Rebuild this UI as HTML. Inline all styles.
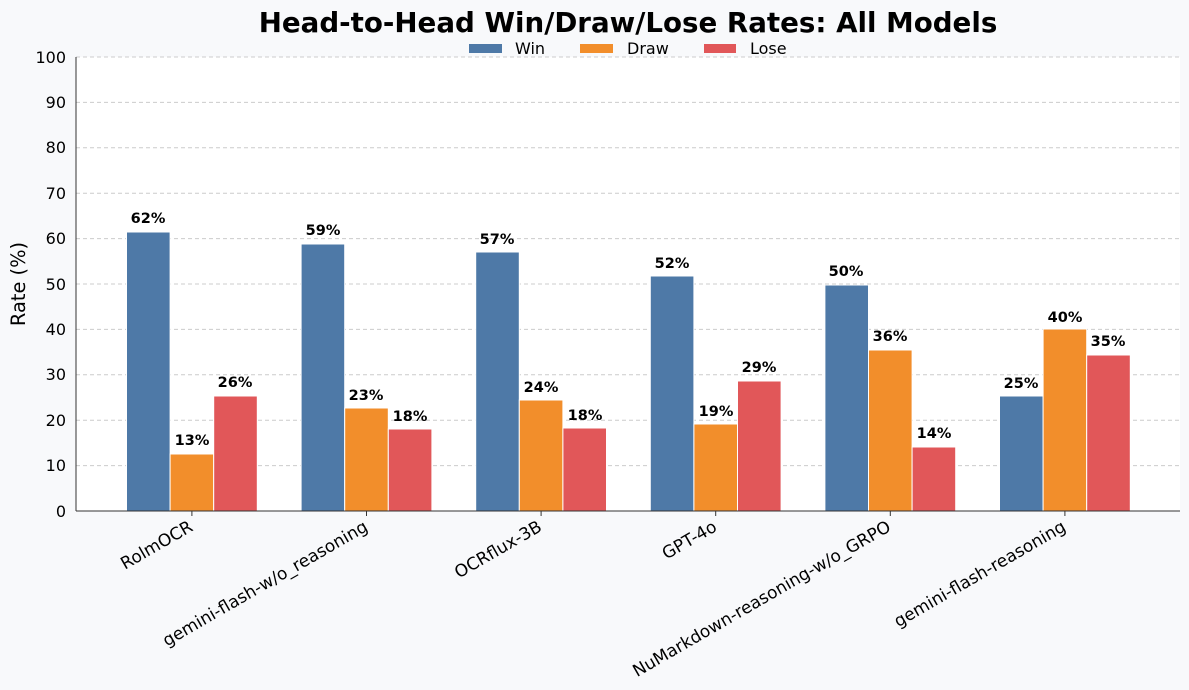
<!DOCTYPE html>
<html><head><meta charset="utf-8"><style>
html,body{margin:0;padding:0;background:#f8f9fb}
svg{display:block;font-family:"DejaVu Sans","Liberation Sans",sans-serif}
</style></head><body>
<svg width="1189" height="690" viewBox="0 0 1189 690" xmlns="http://www.w3.org/2000/svg">
<rect width="1189" height="690" fill="#f8f9fb"/>
<rect x="76" y="57" width="1104" height="454" fill="#ffffff"/>
<g stroke="#cccccc" stroke-dasharray="4,3" stroke-width="1">
<line x1="76" x2="1180" y1="57" y2="57"/><line x1="76" x2="1180" y1="102.4" y2="102.4"/><line x1="76" x2="1180" y1="147.8" y2="147.8"/><line x1="76" x2="1180" y1="193.2" y2="193.2"/><line x1="76" x2="1180" y1="238.6" y2="238.6"/><line x1="76" x2="1180" y1="284" y2="284"/><line x1="76" x2="1180" y1="329.4" y2="329.4"/><line x1="76" x2="1180" y1="374.8" y2="374.8"/><line x1="76" x2="1180" y1="420.2" y2="420.2"/><line x1="76" x2="1180" y1="465.6" y2="465.6"/>
</g>
<g font-size="16" fill="#000" text-anchor="end">
<text x="66" y="63">100</text><text x="66" y="108">90</text><text x="66" y="153">80</text><text x="66" y="199">70</text><text x="66" y="244">60</text><text x="66" y="290">50</text><text x="66" y="335">40</text><text x="66" y="380">30</text><text x="66" y="426">20</text><text x="66" y="471">10</text><text x="66" y="517">0</text>
</g>
<text transform="translate(25,284) rotate(-90)" font-size="19.4" text-anchor="middle">Rate (%)</text>
<text x="628" y="32" font-size="27.7" font-weight="bold" text-anchor="middle">Head-to-Head Win/Draw/Lose Rates: All Models</text>
<rect x="469" y="44" width="33" height="9" fill="#4e79a7"/><text x="515" y="54" font-size="16">Win</text>
<rect x="580" y="44" width="33" height="9" fill="#f28e2b"/><text x="627" y="54" font-size="16">Draw</text>
<rect x="704" y="44" width="32" height="9" fill="#e15759"/><text x="750" y="54" font-size="16">Lose</text>
<g stroke="#fff" stroke-width="1">
<rect x="126.5" y="232" width="43.6" height="279" fill="#4e79a7"/><rect x="170.1" y="454" width="43.6" height="57" fill="#f28e2b"/><rect x="213.7" y="396" width="43.6" height="115" fill="#e15759"/>
<rect x="301.1" y="244" width="43.6" height="267" fill="#4e79a7"/><rect x="344.7" y="408" width="43.6" height="103" fill="#f28e2b"/><rect x="388.3" y="429" width="43.6" height="82" fill="#e15759"/>
<rect x="475.7" y="252" width="43.6" height="259" fill="#4e79a7"/><rect x="519.3" y="400" width="43.6" height="111" fill="#f28e2b"/><rect x="562.9" y="428" width="43.6" height="83" fill="#e15759"/>
<rect x="650.3" y="276" width="43.6" height="235" fill="#4e79a7"/><rect x="693.9" y="424" width="43.6" height="87" fill="#f28e2b"/><rect x="737.5" y="381" width="43.6" height="130" fill="#e15759"/>
<rect x="824.9" y="285" width="43.6" height="226" fill="#4e79a7"/><rect x="868.5" y="350" width="43.6" height="161" fill="#f28e2b"/><rect x="912.1" y="447" width="43.6" height="64" fill="#e15759"/>
<rect x="999.5" y="396" width="43.6" height="115" fill="#4e79a7"/><rect x="1043.1" y="329" width="43.6" height="182" fill="#f28e2b"/><rect x="1086.7" y="355" width="43.6" height="156" fill="#e15759"/>
</g>
<g font-size="14.5" font-weight="bold" text-anchor="middle">
<text x="148" y="223">62%</text><text x="192" y="445">13%</text><text x="235" y="387">26%</text>
<text x="323" y="235">59%</text><text x="366" y="400">23%</text><text x="410" y="421">18%</text>
<text x="497" y="244">57%</text><text x="541" y="392">24%</text><text x="585" y="420">18%</text>
<text x="672" y="268">52%</text><text x="716" y="416">19%</text><text x="759" y="372">29%</text>
<text x="846" y="276">50%</text><text x="890" y="341">36%</text><text x="934" y="438">14%</text>
<text x="1021" y="388">25%</text><text x="1065" y="322">40%</text><text x="1108" y="346">35%</text>
</g>
<line x1="76" y1="57" x2="76" y2="511" stroke="#333" stroke-width="1"/>
<line x1="76" x2="1180" y1="511" y2="511" stroke="#333" stroke-width="1"/>
<g stroke="#333"><line x1="191.9" x2="191.9" y1="511" y2="516"/><line x1="366.5" x2="366.5" y1="511" y2="516"/><line x1="541.1" x2="541.1" y1="511" y2="516"/><line x1="715.7" x2="715.7" y1="511" y2="516"/><line x1="890.3" x2="890.3" y1="511" y2="516"/><line x1="1064.9" x2="1064.9" y1="511" y2="516"/></g>
<g font-size="17" text-anchor="end">
<text transform="translate(194,530) rotate(-30)">RolmOCR</text>
<text transform="translate(369,530) rotate(-30)">gemini-flash-w/o_reasoning</text>
<text transform="translate(543,530) rotate(-30)">OCRflux-3B</text>
<text transform="translate(718,530) rotate(-30)">GPT-4o</text>
<text transform="translate(892,530) rotate(-30)">NuMarkdown-reasoning-w/o_GRPO</text>
<text transform="translate(1067,530) rotate(-30)">gemini-flash-reasoning</text>
</g>
</svg>
</body></html>
